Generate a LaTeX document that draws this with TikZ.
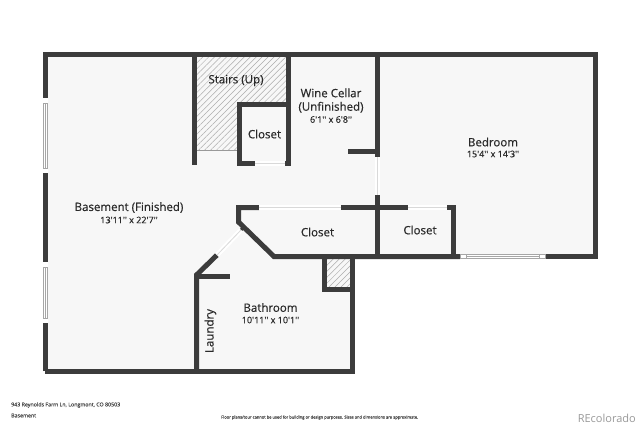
\documentclass[tikz,border=0pt]{standalone}
\usepackage{fontspec}
\setmainfont{Open Sans}
\newfontfamily\labelfont{Open Sans}[FakeBold=0.6]
\usetikzlibrary{patterns.meta}
\definecolor{wallgray}{HTML}{3C3C3C}
\definecolor{floorgray}{HTML}{F7F7F7}
\definecolor{labelgray}{HTML}{2A2A2A}
\tikzset{
    wall/.style={draw=wallgray,line width=5pt,line cap=butt,line join=miter},
    opening/.style={draw=white,line width=5pt},
    jamb/.style={draw=black!35,line width=.6pt},
    hatched/.style={pattern={Lines[angle=45,distance=4.2pt,line width=.5pt]},pattern color=black!32},
    roomname/.style={font=\labelfont\fontsize{11.5}{13.5}\selectfont,text=labelgray,align=center,inner sep=0pt},
    roomsize/.style={font=\labelfont\fontsize{9}{11}\selectfont,text=labelgray,inner sep=0pt},
    footer/.style={font=\labelfont\fontsize{5.3}{6}\selectfont,text=black!70,anchor=west,inner sep=0pt}
}
\begin{document}
\begin{tikzpicture}[x=1pt,y=-1pt]
        \useasboundingbox[fill=white] (0,0) rectangle (640,426);
        % floor
        \fill[floorgray] (45,54) -- (595,54) -- (595,256.5) -- (352.5,256.5) -- (352.5,371) -- (45,371) -- cycle;
        % hatching
        \path[hatched] (196,57) -- (286,57) -- (286,102) -- (237,102) -- (237,150) -- (196,150) -- cycle;
        \path[hatched] (327,259) rectangle (350,287);
        \draw[black!40,line width=.6pt] (196,150) -- (237,150);
        % outer walls
        \draw[wall] (45,371) -- (45,54) -- (595,54) -- (595,256.5) -- (545,256.5);
        \draw[wall] (460,256.5) -- (274,256.5) -- (238.5,222) -- (238.5,207.5) -- (259,207.5);
        \draw[wall] (352.5,256.5) -- (352.5,371) -- (45,371);
        % stairs and closet
        \draw[wall] (194,54) -- (194,165);
        \draw[wall] (288,54) -- (288,165.5);
        \draw[wall] (255,163.5) -- (239,163.5) -- (239,104) -- (288,104);
        \draw[wall] (285,163.5) -- (290,163.5);
        % wine cellar
        \draw[wall] (377.5,54) -- (377.5,157);
        \draw[wall] (348,151.5) -- (377.5,151.5);
        % lower closets
        \draw[wall] (341,207.5) -- (408,207.5);
        \draw[wall] (377.5,195) -- (377.5,256.5);
        \draw[wall] (447,207.5) -- (453.5,207.5) -- (453.5,256.5);
        % shaft
        \draw[wall] (324.5,256.5) -- (324.5,289.5) -- (352.5,289.5);
        % bathroom
        \draw[wall] (196.5,371) -- (196.5,275) -- (217,255);
        \draw[wall] (196.5,276) -- (230,276);
        \draw[wall,line width=3pt] (241,230) -- (244,227);
        % door openings
        \foreach \ax/\ay/\bx/\by in {255/163.5/285/163.5,377.5/157/377.5/195,259/207.5/341/207.5,408/207.5/447/207.5,217/255/241/230}{
            \draw[opening] (\ax,\ay) -- (\bx,\by);
            \draw[black!15,line width=.8pt] (\ax,\ay) -- (\bx,\by);
        }
        % windows
        \foreach \ya/\yb in {98/173,262/323}{
            \fill[white] (42.5,\ya) rectangle (47.5,\yb);
            \draw[jamb] (43,\ya+5) rectangle (47,\yb-5);
            \draw[jamb] (45,\ya+5) -- (45,\yb-5);
        }
        \fill[white] (460,254) rectangle (545,259);
        \draw[jamb] (460,254.5) rectangle (545,258.5);
        \draw[jamb] (466,254.5) -- (466,258.5);
        \draw[jamb] (539,254.5) -- (539,258.5);
        \draw[jamb] (466,256.5) -- (539,256.5);
        % labels
        \node[roomname] (stairs) at (236,80.5) {Stairs (Up)};
        \node[roomname] (closeta) at (264.5,134) {Closet};
        \node[roomname] (cellar) at (331,100.5) {Wine Cellar\\(Unfinished)};
        \node[roomsize] (cellarsize) at (331,119.5) {6'1'' x 6'8''};
        \node[roomname] (bedroom) at (493,142) {Bedroom};
        \node[roomsize] (bedroomsize) at (493,154) {15'4'' x 14'3''};
        \node[roomname] (basement) at (129,207.5) {Basement (Finished)};
        \node[roomsize] (basementsize) at (129,220) {13'11'' x 22'7''};
        \node[roomname] (closetb) at (317.5,232) {Closet};
        \node[roomname] (closetc) at (420,230) {Closet};
        \node[roomname] (bathroom) at (270.5,307.5) {Bathroom};
        \node[roomsize] (bathroomsize) at (270.5,320) {10'11'' x 10'1''};
        \node[roomname,rotate=90] (laundry) at (210.5,331) {Laundry};
        % footer
        \node[footer] (address) at (11,405) {943 Reynolds Farm Ln, Longmont, CO 80503};
        \node[footer] (level) at (11,415.5) {Basement};
        \node[footer,font=\labelfont\fontsize{4.05}{5}\selectfont] (note) at (221,417.5) {Floor plans/tour cannot be used for building or design purposes. Sizes and dimensions are approximate.};
        \node[inner sep=0pt,text=black!40,font=\fontsize{11}{13}\selectfont,anchor=east] (brand) at (636,418) {REcolorado};
    \end{tikzpicture}
\end{document}
